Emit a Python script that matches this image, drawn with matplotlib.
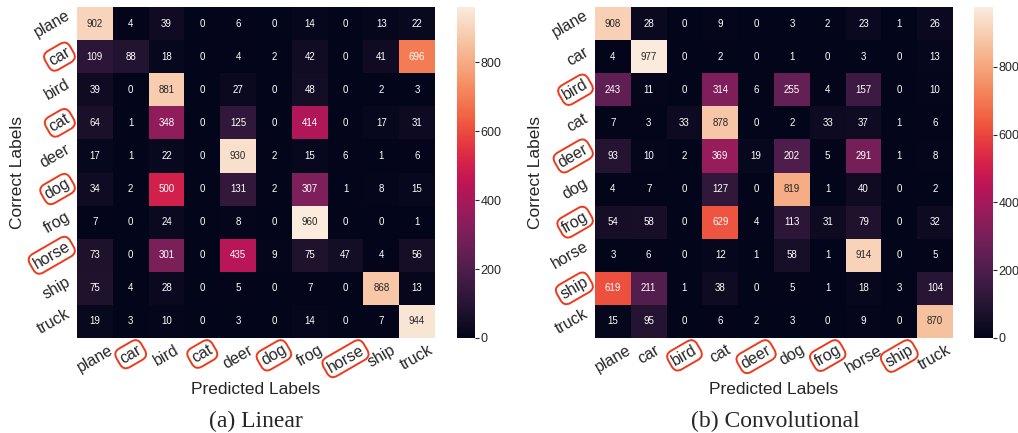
import numpy as np
import matplotlib
matplotlib.use("Agg")
import matplotlib.pyplot as plt
import seaborn as sns

classes = ["plane", "car", "bird", "cat", "deer", "dog", "frog", "horse", "ship", "truck"]

# confusion matrix, linear model (rows = correct, cols = predicted)
linear_cm = [
    [902, 4, 39, 0, 6, 0, 14, 0, 13, 22],
    [109, 88, 18, 0, 4, 2, 42, 0, 41, 696],
    [39, 0, 881, 0, 27, 0, 48, 0, 2, 3],
    [64, 1, 348, 0, 125, 0, 414, 0, 17, 31],
    [17, 1, 22, 0, 930, 2, 15, 6, 1, 6],
    [34, 2, 500, 0, 131, 2, 307, 1, 8, 15],
    [7, 0, 24, 0, 8, 0, 960, 0, 0, 1],
    [73, 0, 301, 0, 435, 9, 75, 47, 4, 56],
    [75, 4, 28, 0, 5, 0, 7, 0, 868, 13],
    [19, 3, 10, 0, 3, 0, 14, 0, 7, 944],
]

# confusion matrix, convolutional model
conv_cm = [
    [908, 28, 0, 9, 0, 3, 2, 23, 1, 26],
    [4, 977, 0, 2, 0, 1, 0, 3, 0, 13],
    [243, 11, 0, 314, 6, 255, 4, 157, 0, 10],
    [7, 3, 33, 878, 0, 2, 33, 37, 1, 6],
    [93, 10, 2, 369, 19, 202, 5, 291, 1, 8],
    [4, 7, 0, 127, 0, 819, 1, 40, 0, 2],
    [54, 58, 0, 629, 4, 113, 31, 79, 0, 32],
    [3, 6, 0, 12, 1, 58, 1, 914, 0, 5],
    [619, 211, 1, 38, 0, 5, 1, 18, 3, 104],
    [15, 95, 0, 6, 2, 3, 0, 9, 0, 870],
]

linear_marked = ["car", "cat", "dog", "horse"]
conv_marked = ["bird", "deer", "frog", "ship"]

sns.set_style("white")
plt.rcParams["font.family"] = ["Liberation Sans", "DejaVu Sans"]

fig = plt.figure(figsize=(10.18, 4.33), dpi=100)

W, H = 1018.0, 433.0


def box(x0, y0, x1, y1):
    # pixel coords (top-left origin) -> figure fraction rect
    return [x0 / W, 1 - y1 / H, (x1 - x0) / W, (y1 - y0) / H]


def draw_cm(cm, marked, hm_px, cb_px, caption, cap_x):
    ax = fig.add_axes(box(*hm_px))
    cax = fig.add_axes(box(*cb_px))
    sns.heatmap(np.array(cm), annot=True, fmt="d", ax=ax, cbar_ax=cax,
                cmap="rocket", annot_kws={"size": 7})
    ax.set_xticklabels(classes, rotation=30, ha="center", fontsize=11.5, color=".15")
    ax.set_yticklabels(classes, rotation=30, ha="right", va="center", fontsize=11.5, color=".15")
    ax.tick_params(length=0, pad=3)
    ax.set_xlabel("Predicted Labels", fontsize=12.5, color=".15", labelpad=5)
    ax.set_ylabel("Correct Labels", fontsize=12.5, color=".15", labelpad=4)
    for lab in ax.get_xticklabels() + ax.get_yticklabels():
        if lab.get_text() in marked:
            lab.set_bbox(dict(boxstyle="round,pad=0.2,rounding_size=0.45",
                              fc="none", ec="#ee3a1b", lw=1.4))
    cax.tick_params(labelsize=9, length=3, width=0.8, colors=".15", pad=1)
    cax.set_yticks([0, 200, 400, 600, 800])
    fig.text(cap_x / W, 1 - 421 / H, caption, ha="center", va="center",
             fontsize=17, family="Liberation Serif")


draw_cm(linear_cm, linear_marked, (77, 7, 435, 338), (457, 7, 475, 338), "(a) Linear", 256)
draw_cm(conv_cm, conv_marked, (595, 7, 953, 338), (974, 7, 993, 338), "(b) Convolutional", 775)

plt.savefig("out.png", dpi=100)
